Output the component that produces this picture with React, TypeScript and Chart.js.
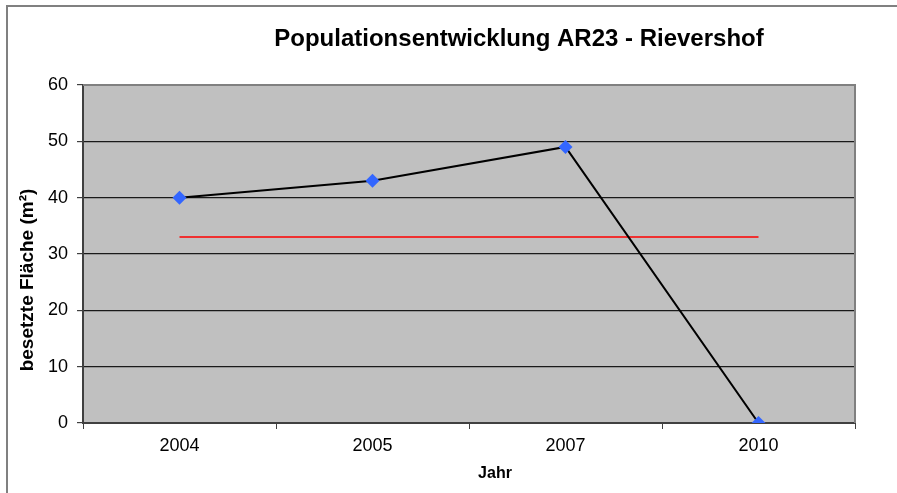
import { useEffect, useRef } from "react";
import { Chart, registerables } from "chart.js";

Chart.register(...registerables);

const categories = ["2004", "2005", "2007", "2010"];
const population = [40, 43, 49, 0];
const referenceLine = [33, 33, 33, 33];
const yTicks = [0, 10, 20, 30, 40, 50, 60];
const chartTitle = "Populationsentwicklung AR23 - Rievershof";
const xTitle = "Jahr";
const yTitle = "besetzte Fläche (m²)";

const FONT = "'Liberation Sans', Arial, Helvetica, sans-serif";

const decorPlugin = {
  id: "decor",
  beforeDraw(chart: any) {
    const { ctx, chartArea: a } = chart;
    ctx.save();
    ctx.fillStyle = "#ffffff";
    ctx.fillRect(0, 0, chart.width, chart.height);
    ctx.fillStyle = "#C0C0C0";
    ctx.fillRect(a.left, a.top, a.right - a.left, a.bottom - a.top);
    ctx.strokeStyle = "#808080";
    ctx.lineWidth = 2;
    ctx.strokeRect(7, 6, chart.width + 40, chart.height + 40);
    ctx.restore();
  },
  beforeDatasetsDraw(chart: any) {
    const { ctx, chartArea: a } = chart;
    ctx.save();
    ctx.strokeStyle = "#808080";
    ctx.lineWidth = 2;
    ctx.beginPath();
    ctx.moveTo(a.left, a.top);
    ctx.lineTo(a.right, a.top);
    ctx.lineTo(a.right, a.bottom);
    ctx.stroke();
    ctx.restore();
  },
  afterDraw(chart: any) {
    const { ctx } = chart;
    ctx.save();
    ctx.fillStyle = "#000000";
    ctx.textAlign = "center";
    ctx.textBaseline = "alphabetic";
    ctx.font = `bold 24px ${FONT}`;
    ctx.fillText(chartTitle, 519, 46);
    ctx.font = `bold 16px ${FONT}`;
    ctx.fillText(xTitle, 495, 478);
    ctx.translate(33, 280);
    ctx.rotate(-Math.PI / 2);
    ctx.font = `bold 19px ${FONT}`;
    ctx.fillText(yTitle, 0, 0);
    ctx.restore();
  },
};

export default function App() {
  const canvasRef = useRef<HTMLCanvasElement | null>(null);

  useEffect(() => {
    if (!canvasRef.current) return;
    Chart.defaults.font.family = FONT;
    const chart = new Chart(canvasRef.current, {
      type: "line",
      data: {
        labels: categories,
        datasets: [
          {
            label: "Population",
            data: population,
            borderColor: "#000000",
            borderWidth: 2,
            pointStyle: "rectRot",
            pointRadius: 7,
            pointHoverRadius: 7,
            pointBackgroundColor: "#3366FF",
            pointBorderColor: "#3366FF",
            pointBorderWidth: 0,
            tension: 0,
          },
          {
            label: "Referenz",
            data: referenceLine,
            borderColor: "#FF0000",
            borderWidth: 1.5,
            pointRadius: 0,
            pointHoverRadius: 0,
            tension: 0,
          },
        ],
      },
      options: {
        responsive: false,
        animation: false,
        devicePixelRatio: 1,
        layout: { padding: { top: 85, left: 0, right: 42, bottom: 0 } },
        plugins: {
          legend: { display: false },
          title: { display: false },
          tooltip: { enabled: false },
        },
        scales: {
          x: {
            type: "category",
            offset: true,
            grid: {
              offset: true,
              drawOnChartArea: false,
              drawTicks: true,
              tickLength: 6,
              color: "#404040",
            },
            border: { display: true, color: "#404040", width: 2 },
            ticks: {
              color: "#000000",
              font: { size: 18 },
              padding: 6,
              maxRotation: 0,
            },
            afterFit(scale: any) {
              scale.height = 70;
            },
          },
          y: {
            min: yTicks[0],
            max: yTicks[yTicks.length - 1],
            ticks: {
              stepSize: yTicks[1] - yTicks[0],
              color: "#000000",
              font: { size: 18 },
              padding: 9,
            },
            grid: {
              color: "#1a1a1a",
              lineWidth: 1.2,
              drawTicks: true,
              tickLength: 6,
              tickColor: "#404040",
            },
            border: { display: true, color: "#404040", width: 2 },
            afterFit(scale: any) {
              scale.width = 83;
            },
          },
        },
      },
      plugins: [decorPlugin],
    });
    return () => chart.destroy();
  }, []);

  return (
    <div style={{ position: "fixed", left: 0, top: 0, width: 897, height: 493, background: "#fff" }}>
      <canvas ref={canvasRef} width={897} height={493} />
    </div>
  );
}
